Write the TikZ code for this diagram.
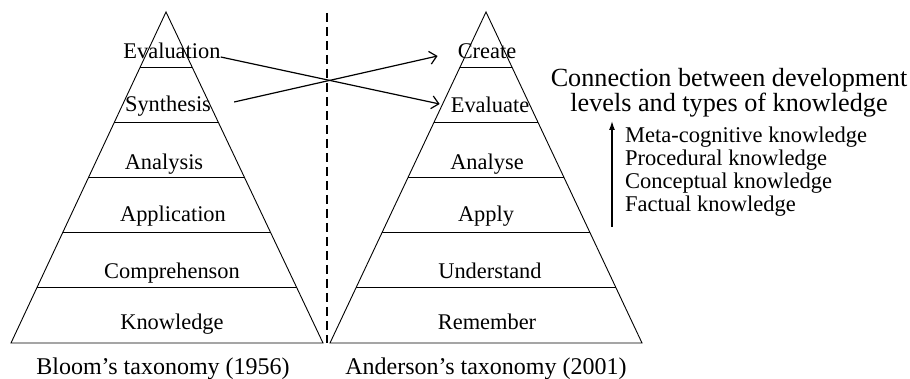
\documentclass[tikz,border=0pt]{standalone}
\usepackage{fontspec}
\setmainfont{Liberation Serif}
\usetikzlibrary{positioning, calc, arrows.meta}

\begin{document}
\begin{tikzpicture}[x=1pt, y=-1pt,
      lvl/.style={font=\fontsize{22.4}{23}\selectfont, inner sep=0pt, anchor=base},
      taxo/.style={font=\fontsize{24}{24}\selectfont, inner sep=0pt, anchor=base},
      layer/.style={line width=0.9pt},
      link/.style={line width=1.2pt, -{Straight Barb[length=7pt, width=13pt]}}]
  \useasboundingbox (0,0) rectangle (910,379);
  % Bloom's pyramid
  \coordinate (btop) at (166,12);
  \coordinate (bleft) at (11,343);
  \coordinate (bright) at (323,343);
  \draw[layer] (bleft) -- (btop) -- (bright) -- cycle;
  \foreach \k in {1,...,5}
    \draw[layer] ($(btop)!\k/6!(bleft)$) -- ($(btop)!\k/6!(bright)$);
  % Anderson's pyramid
  \coordinate (atop) at (486,12);
  \coordinate (aleft) at (330,343);
  \coordinate (aright) at (642,343);
  \draw[layer] (aleft) -- (atop) -- (aright) -- cycle;
  \foreach \k in {1,...,5}
    \draw[layer] ($(atop)!\k/6!(aleft)$) -- ($(atop)!\k/6!(aright)$);
  \draw[line width=1.6pt, dash pattern=on 9pt off 5pt] (327,13) -- (327,343);

  \node[lvl] (evaluation) at (172,59) {Evaluation};
  \node[lvl] (synthesis) at (168,112) {Synthesis};
  \node[lvl] (analysis) at (164,170) {Analysis};
  \node[lvl] (application) at (173,222) {Application};
  \node[lvl] (comprehension) at (172,279) {Comprehenson};
  \node[lvl] (knowledge) at (172,329) {Knowledge};

  \node[lvl] (create) at (487,59) {Create};
  \node[lvl] (evaluate) at (490,113) {Evaluate};
  \node[lvl] (analyse) at (487,170) {Analyse};
  \node[lvl] (apply) at (486,222) {Apply};
  \node[lvl] (understand) at (490,279) {Understand};
  \node[lvl] (remember) at (487,329) {Remember};

  \draw[link] ([yshift=2pt]evaluation.base east) -- ([xshift=-11pt, yshift=9pt]evaluate.base west);
  \draw[link] ([xshift=23pt, yshift=10pt]synthesis.base east) -- ([xshift=-20pt, yshift=3pt]create.base west);

  \node[font=\fontsize{26.2}{23}\selectfont, align=center, inner sep=0pt] (title) at (729,93) {Connection between development\\levels and types of knowledge};
  \node[font=\fontsize{22.5}{23}\selectfont, align=left, inner sep=0pt, anchor=north west] (kinds) at (625,127) {Meta-cognitive knowledge\\Procedural knowledge\\Conceptual knowledge\\Factual knowledge};
  \coordinate (low) at (612,227);
  \coordinate (high) at (612,121);
  \draw[line width=1.3pt, -{Latex[length=9pt, width=6pt]}] (low) -- (high);

  \node[taxo] (bloom) at (163,374) {Bloom's taxonomy (1956)};
  \node[taxo] (anderson) at (486,374) {Anderson's taxonomy (2001)};
\end{tikzpicture}
\end{document}
